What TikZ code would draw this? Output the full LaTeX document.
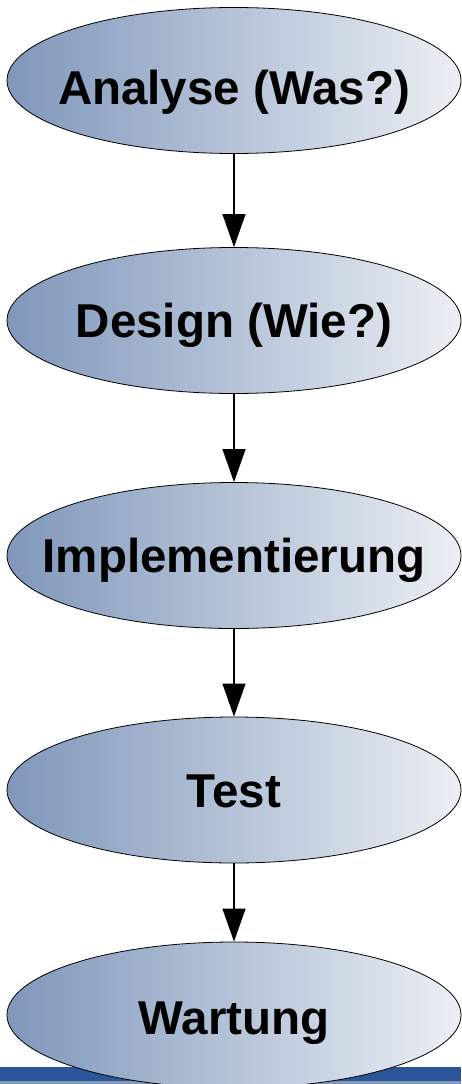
\documentclass[tikz,border=0pt]{standalone}
\usepackage{fontspec}
\setmainfont{Liberation Sans}
\usetikzlibrary{shapes.geometric, arrows.meta}
\definecolor{ellL}{HTML}{7F97BB}
\definecolor{ellR}{HTML}{ECEFF4}
\definecolor{barblue}{HTML}{2B579A}
\definecolor{barlow}{HTML}{8397B8}

\begin{document}
\begin{tikzpicture}[
        x=1pt, y=-1pt,
        phase/.style={ellipse, draw=black, line width=0.8pt, inner sep=0pt,
          minimum width=454pt, minimum height=146pt,
          left color=ellL, right color=ellR,
          font=\fontsize{47.5}{57}\selectfont\bfseries,
          text height=34pt, text depth=0pt},
        flow/.style={-{Triangle[width=23pt,length=33pt]}, line width=1.2pt}]

      \useasboundingbox (0,0) rectangle (461,1084);

      \fill[barblue] (0,1067) rectangle (461,1081);
      \fill[barlow] (0,1081) rectangle (461,1084);

      \node[phase, text height=48pt] (ana) at (234,80.5) {\makebox[0pt]{Analyse (Was?)}};
      \node[phase] (des) at (234,320.5) {\makebox[0pt]{Design (Wie?)}};
      \node[phase] (imp) at (234,555.5) {\makebox[0pt]{Implementierung}};
      \node[phase] (tst) at (234,790) {\makebox[0pt]{Test}};
      \node[phase, text height=38pt] (wart) at (234,1015) {\makebox[0pt]{Wartung}};

      \foreach \b/\t in {ana/des, des/imp, imp/tst, tst/wart}
        \draw[flow] (\b.south) -- (\t.north);

    \end{tikzpicture}
\end{document}
